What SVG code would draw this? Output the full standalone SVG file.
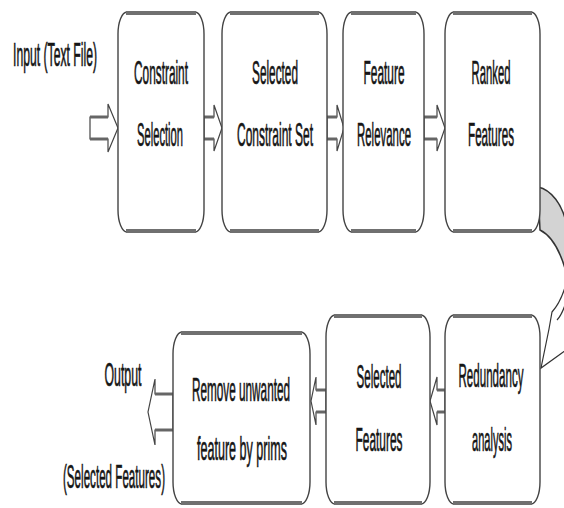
<svg xmlns="http://www.w3.org/2000/svg" width="564" height="508" viewBox="0 0 564 508">
<style>
.box{fill:#fff;stroke:#444;stroke-width:1.4}
.edge{stroke:#707070;stroke-width:4;fill:none}
.t{font-family:"Liberation Sans",Arial,sans-serif;font-size:12px;fill:#151515;text-anchor:middle;stroke:#151515;stroke-width:0.25}
.arr{fill:#fff;stroke:#444;stroke-width:1.2}
.sh{stroke:#666;stroke-width:3}
</style>
<g id="connectors">
<g id="a-in"><polygon class="arr" points="90,117 108,117 108,104 118,128 108,152 108,139 90,139"/><line class="sh" x1="90" y1="117" x2="108" y2="117"/><line class="sh" x1="90" y1="139" x2="108" y2="139"/></g>
<g id="a1"><polygon class="arr" points="204,117 214,117 214,105 222,128 214,151 214,139 204,139"/><line class="sh" x1="204" y1="117" x2="214" y2="117"/><line class="sh" x1="204" y1="139" x2="214" y2="139"/></g>
<g id="a2"><polygon class="arr" points="327,117 337,117 337,105 344,128 337,151 337,139 327,139"/><line class="sh" x1="327" y1="117" x2="337" y2="117"/><line class="sh" x1="327" y1="139" x2="337" y2="139"/></g>
<g id="a3"><polygon class="arr" points="424,117 437,117 437,105 445,128 437,151 437,139 424,139"/><line class="sh" x1="424" y1="117" x2="437" y2="117"/><line class="sh" x1="424" y1="139" x2="437" y2="139"/></g>
<g id="a4"><polygon class="arr" points="445,390 437,390 437,377 430,401 437,425 437,412 445,412"/><line class="sh" x1="437" y1="390" x2="445" y2="390"/><line class="sh" x1="437" y1="412" x2="445" y2="412"/></g>
<g id="a5"><polygon class="arr" points="326,390 316,390 316,377 311,401 316,425 316,412 326,412"/><line class="sh" x1="316" y1="390" x2="326" y2="390"/><line class="sh" x1="316" y1="412" x2="326" y2="412"/></g>
<g id="a-out"><polygon class="arr" points="173,394 155,394 155,379 148,412 155,445 155,430 173,430"/><line class="sh" x1="155" y1="394" x2="173" y2="394"/><line class="sh" x1="155" y1="430" x2="173" y2="430"/></g>
<g id="a-curve">
<path d="M538,187 C552,190 562,205 566,222 L566,272 C560,250 552,236 540,230 Z" fill="#d3d3d3" stroke="#333" stroke-width="1.5"/>
<path d="M566,284 Q561,302 552,312 L549,329 L541,368 L566,350" fill="#fff" stroke="#333" stroke-width="1.2"/>
<path d="M566,302 Q562,315 557,320" fill="none" stroke="#333" stroke-width="1.2"/>
</g>
</g>
<g id="n1"><rect class="box" x="118" y="12" width="86" height="220" rx="9" ry="22"/><line class="edge" x1="126" y1="13" x2="196" y2="13"/><line class="edge" x1="126" y1="231" x2="196" y2="231"/>
<g transform="translate(161,84) scale(1,2.7)"><text class="t" textLength="54" lengthAdjust="spacingAndGlyphs">Constraint</text></g>
<g transform="translate(160,146) scale(1,2.7)"><text class="t" textLength="46" lengthAdjust="spacingAndGlyphs">Selection</text></g></g>
<g id="n2"><rect class="box" x="222" y="12" width="105" height="220" rx="9" ry="22"/><line class="edge" x1="230" y1="13" x2="319" y2="13"/><line class="edge" x1="230" y1="231" x2="319" y2="231"/>
<g transform="translate(275,84) scale(1,2.7)"><text class="t" textLength="46" lengthAdjust="spacingAndGlyphs">Selected</text></g>
<g transform="translate(275,146) scale(1,2.7)"><text class="t" textLength="76" lengthAdjust="spacingAndGlyphs">Constraint Set</text></g></g>
<g id="n3"><rect class="box" x="343" y="12" width="81" height="220" rx="9" ry="22"/><line class="edge" x1="351" y1="13" x2="416" y2="13"/><line class="edge" x1="351" y1="231" x2="416" y2="231"/>
<g transform="translate(384,84) scale(1,2.7)"><text class="t" textLength="41" lengthAdjust="spacingAndGlyphs">Feature</text></g>
<g transform="translate(384,146) scale(1,2.7)"><text class="t" textLength="54" lengthAdjust="spacingAndGlyphs">Relevance</text></g></g>
<g id="n4"><rect class="box" x="445" y="12" width="95" height="220" rx="9" ry="22"/><line class="edge" x1="453" y1="13" x2="532" y2="13"/><line class="edge" x1="453" y1="231" x2="532" y2="231"/>
<g transform="translate(491,84) scale(1,2.7)"><text class="t" textLength="39" lengthAdjust="spacingAndGlyphs">Ranked</text></g>
<g transform="translate(491,146) scale(1,2.7)"><text class="t" textLength="46" lengthAdjust="spacingAndGlyphs">Features</text></g></g>
<g id="n5"><rect class="box" x="173" y="332" width="137" height="172" rx="9" ry="22"/><line class="edge" x1="181" y1="333" x2="302" y2="333"/><line class="edge" x1="181" y1="503" x2="302" y2="503"/>
<g transform="translate(241,401) scale(1,2.7)"><text class="t" textLength="98" lengthAdjust="spacingAndGlyphs">Remove unwanted</text></g>
<g transform="translate(242,460) scale(1,2.7)"><text class="t" textLength="90" lengthAdjust="spacingAndGlyphs">feature by prims</text></g></g>
<g id="n6"><rect class="box" x="326" y="315" width="104" height="189" rx="9" ry="22"/><line class="edge" x1="334" y1="316" x2="422" y2="316"/><line class="edge" x1="334" y1="503" x2="422" y2="503"/>
<g transform="translate(379,388) scale(1,2.7)"><text class="t" textLength="45" lengthAdjust="spacingAndGlyphs">Selected</text></g>
<g transform="translate(379,451) scale(1,2.7)"><text class="t" textLength="47" lengthAdjust="spacingAndGlyphs">Features</text></g></g>
<g id="n7"><rect class="box" x="445" y="315" width="95" height="189" rx="9" ry="22"/><line class="edge" x1="453" y1="316" x2="532" y2="316"/><line class="edge" x1="453" y1="503" x2="532" y2="503"/>
<g transform="translate(491,387) scale(1,2.7)"><text class="t" textLength="65" lengthAdjust="spacingAndGlyphs">Redundancy</text></g>
<g transform="translate(492,451) scale(1,2.7)"><text class="t" textLength="40" lengthAdjust="spacingAndGlyphs">analysis</text></g></g>
<g id="labels">
<g transform="translate(55,66) scale(1,2.7)"><text class="t" textLength="84" lengthAdjust="spacingAndGlyphs">Input (Text File)</text></g>
<g transform="translate(123,386) scale(1,2.7)"><text class="t" textLength="37" lengthAdjust="spacingAndGlyphs">Output</text></g>
<g transform="translate(114,488) scale(1,2.7)"><text class="t" textLength="102" lengthAdjust="spacingAndGlyphs">(Selected Features)</text></g>
</g>
</svg>
